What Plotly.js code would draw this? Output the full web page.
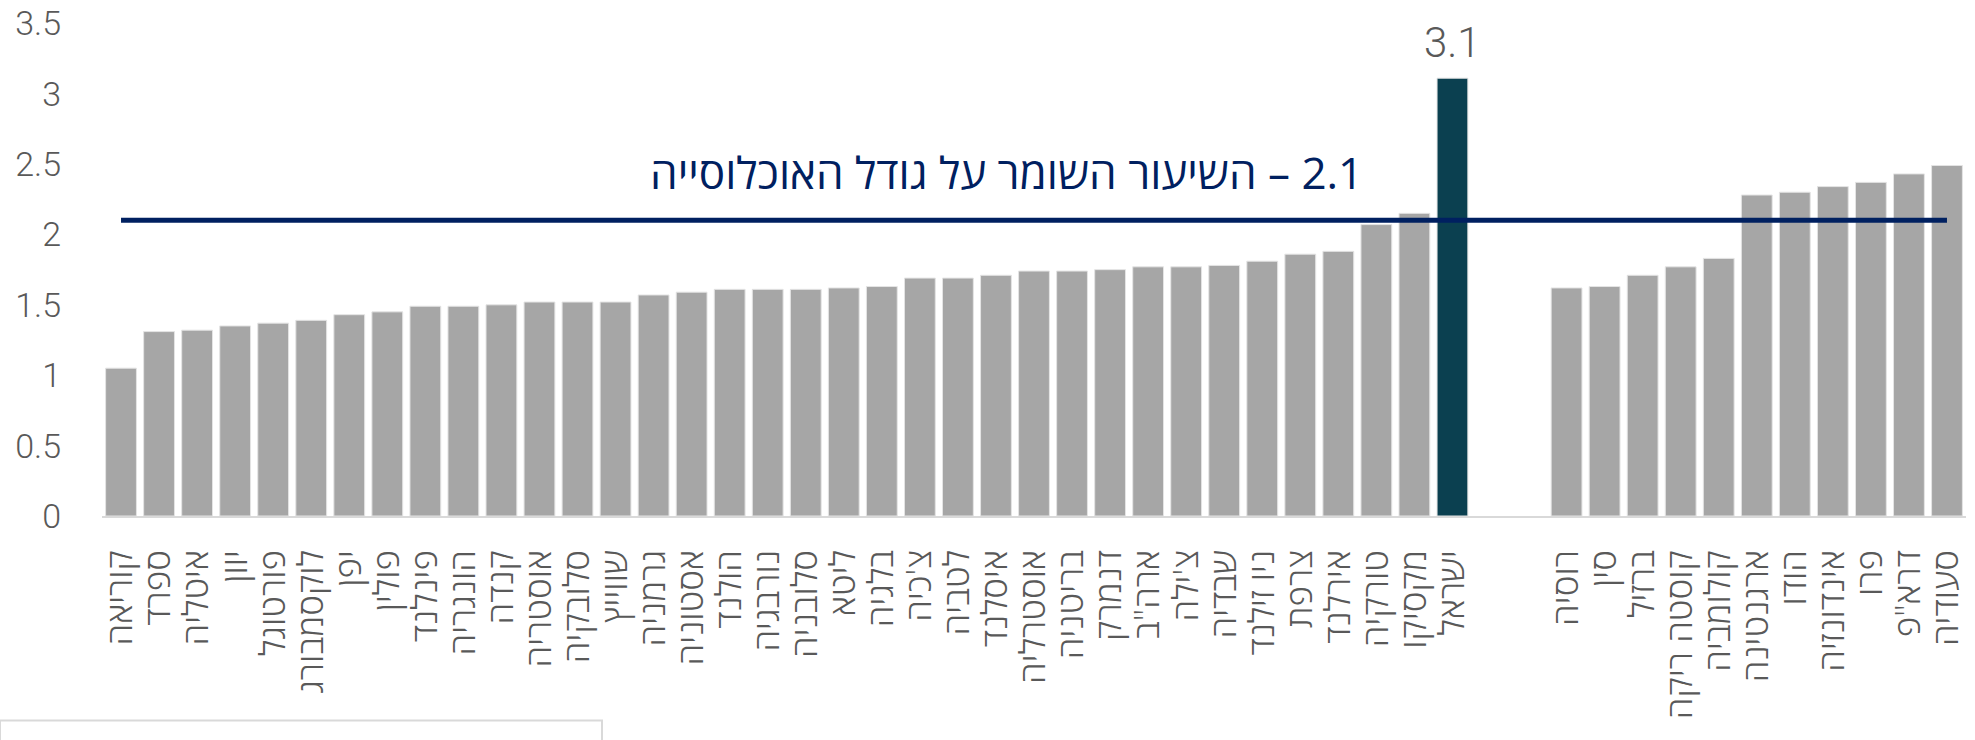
<!DOCTYPE html>
<html>
<head>
<meta charset="utf-8">
<script src="https://cdn.plot.ly/plotly-3.0.1.min.js"></script>
<style>
  html, body { margin: 0; padding: 0; background: #ffffff; }
  #chart { width: 1975px; height: 740px; }
</style>
</head>
<body>
<div id="chart"></div>
<script>
// OECD countries (left group), sorted by fertility rate
const oecdCountries = ['קוריאה', 'ספרד', 'איטליה', 'יוון', 'פורטוגל', 'לוקסמבורג', 'יפן', 'פולין', 'פינלנד', 'הונגריה',
  'קנדה', 'אוסטריה', 'סלובקיה', 'שווייץ', 'גרמניה', 'אסטוניה', 'הולנד', 'נורבגיה', 'סלובניה', 'ליטא',
  'בלגיה', 'צ\'כיה', 'לטביה', 'איסלנד', 'אוסטרליה', 'בריטניה', 'דנמרק', 'ארה"ב', 'צ\'ילה', 'שבדיה',
  'ניו זילנד', 'צרפת', 'אירלנד', 'טורקיה', 'מקסיקו', 'ישראל'];
const oecdValues = [1.05, 1.31, 1.32, 1.35, 1.37, 1.39, 1.43, 1.45, 1.49, 1.49,
  1.50, 1.52, 1.52, 1.52, 1.57, 1.59, 1.61, 1.61, 1.61, 1.62,
  1.63, 1.69, 1.69, 1.71, 1.74, 1.74, 1.75, 1.77, 1.77, 1.78,
  1.81, 1.86, 1.88, 2.07, 2.15, 3.11];

// Non-OECD countries (right group)
const otherCountries = ['רוסיה', 'סין', 'ברזיל', 'קוסטה ריקה', 'קולומביה', 'ארגנטינה', 'הודו', 'אינדונזיה', 'פרו', 'דרא"פ', 'סעודיה'];
const otherValues = [1.62, 1.63, 1.71, 1.77, 1.83, 2.28, 2.30, 2.34, 2.37, 2.43, 2.49];

// empty slots separating the two groups
const gapCategories = [' ', '  '];

const replacementRate = 2.1;
const replacementText = 'השיעור השומר על גודל האוכלוסייה';
const highlightCountry = 'ישראל';

const yTicks = [0, 0.5, 1, 1.5, 2, 2.5, 3, 3.5];
const yTickText = ['0', '0.5', '1', '1.5', '2', '2.5', '3', '3.5'];

// ---- build ----
const categories = oecdCountries.concat(gapCategories, otherCountries);
const values = oecdValues.concat(gapCategories.map(() => null), otherValues);
const GREY = '#A6A6A6';
const DARK = '#0B4050';
const NAVY = '#002060';
const colors = categories.map(c => c === highlightCountry ? DARK : GREY);

const HEB_FONT = 'Open Sans, DejaVu Sans, sans-serif';
const NUM_FONT = 'Roboto, Open Sans, sans-serif';

const bars = {
  type: 'bar',
  x: categories,
  y: values,
  marker: { color: colors, line: { color: '#E4E4E4', width: 1 } },
  hoverinfo: 'x+y',
  showlegend: false
};

const refLine = {
  type: 'scatter',
  mode: 'lines',
  x: [categories[0], categories[categories.length - 1]],
  y: [replacementRate, replacementRate],
  line: { color: NAVY, width: 5 },
  hoverinfo: 'skip',
  showlegend: false
};

const israelIdx = categories.indexOf(highlightCountry);

const layout = {
  width: 1975,
  height: 740,
  paper_bgcolor: '#ffffff',
  plot_bgcolor: '#ffffff',
  margin: { l: 102, r: 9, t: 23, b: 224, pad: 0 },
  bargap: 0.19,
  font: { family: HEB_FONT, color: '#595959' },
  xaxis: {
    type: 'category',
    categoryorder: 'array',
    categoryarray: categories,
    tickmode: 'array',
    tickvals: categories,
    ticktext: categories,
    tickangle: -90,
    showgrid: false,
    zeroline: false,
    showline: true,
    linecolor: '#D9D9D9',
    linewidth: 2,
    ticks: '',
    ticklabelstandoff: 18,
    tickfont: { size: 35, color: '#595959', family: HEB_FONT, weight: 300 },
    automargin: false,
    fixedrange: true
  },
  yaxis: {
    range: [0, 3.502],
    tickvals: yTicks,
    ticktext: yTickText,
    showgrid: false,
    zeroline: false,
    showline: false,
    ticks: '',
    ticklabelstandoff: 40,
    tickfont: { size: 34, color: '#595959', family: NUM_FONT, weight: 300 },
    automargin: false,
    fixedrange: true
  },
  annotations: [
    {
      xref: 'paper', yref: 'y',
      x: 0.6776, y: replacementRate,
      xanchor: 'right', yanchor: 'bottom',
      yshift: 16,
      text: replacementText + '\u200E – ' + replacementRate.toFixed(1),
      showarrow: false,
      font: { size: 44, color: NAVY, family: HEB_FONT, weight: 400 }
    },
    {
      xref: 'x', yref: 'y',
      x: highlightCountry, y: values[israelIdx],
      xanchor: 'center', yanchor: 'bottom',
      yshift: 9,
      text: values[israelIdx].toFixed(1),
      showarrow: false,
      font: { size: 42, color: '#595959', family: NUM_FONT, weight: 300 }
    }
  ],
  shapes: [
    {
      type: 'rect', xref: 'paper', yref: 'paper', layer: 'above',
      x0: -102 / 1864, x1: 500 / 1864, y0: -0.415, y1: -0.6,
      line: { color: '#D9D9D9', width: 2 },
      fillcolor: 'rgba(255,255,255,0)'
    }
  ]
};

Plotly.newPlot('chart', [bars, refLine], layout, { staticPlot: true, displayModeBar: false });
</script>
</body>
</html>
